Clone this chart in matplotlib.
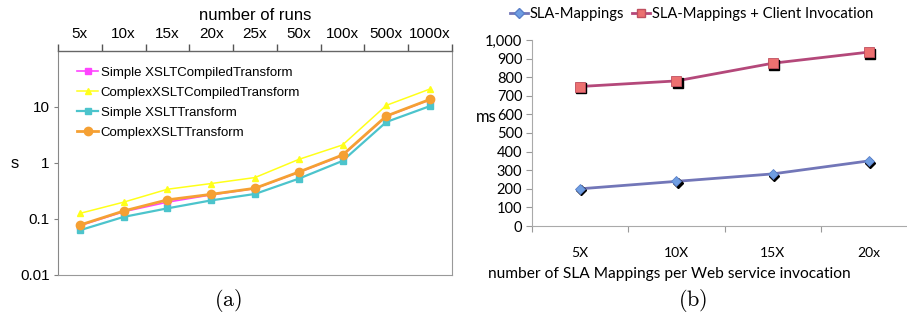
import matplotlib
matplotlib.use("Agg")
import matplotlib.pyplot as plt
import matplotlib.transforms as mtransforms
import numpy as np

# ---- data (a) ----
runs = ["5x", "10x", "15x", "20x", "25x", "50x", "100x", "500x", "1000x"]
simple_compiled = [0.076, 0.135, 0.20, 0.27, 0.35, 0.68, 1.36, 6.8, 13.5]
complex_compiled = [0.126, 0.20, 0.34, 0.43, 0.55, 1.16, 2.1, 10.7, 21.0]
simple_transform = [0.063, 0.109, 0.155, 0.215, 0.28, 0.525, 1.09, 5.4, 10.4]
complex_transform = [0.078, 0.139, 0.22, 0.276, 0.354, 0.69, 1.39, 6.9, 13.7]
yticks_a = [0.01, 0.1, 1, 10]
ytick_labels_a = ["0.01", "0.1", "1", "10"]

# ---- data (b) ----
mappings = ["5X", "10X", "15X", "20x"]
sla = [200, 240, 280, 350]
sla_client = [750, 780, 875, 935]
yticks_b = list(range(0, 1001, 100))

W, H = 907, 322
fig = plt.figure(figsize=(W / 100, H / 100), dpi=100)

def box(x0, x1, ytop, ybot):
    return [x0 / W, (H - ybot) / H, (x1 - x0) / W, (ybot - ytop) / H]

# ================= (a) =================
sans = "Liberation Sans"
ax = fig.add_axes(box(58, 452, 51, 275))
x = np.arange(len(runs))
ax.plot(x, simple_compiled, color="#FF44FF", lw=1.2, marker="s", ms=4, label="Simple XSLTCompiledTransform", zorder=3)
ax.plot(x, complex_compiled, color="#FFFF1A", lw=1.1, marker="^", ms=4.5, label="ComplexXSLTCompiledTransform", zorder=2)
ax.plot(x, simple_transform, color="#4CC4CC", lw=1.6, marker="s", ms=5, label="Simple XSLTTransform", zorder=3)
ax.plot(x, complex_transform, color="#F5A033", lw=2.0, marker="o", ms=6, label="ComplexXSLTTransform", zorder=4)
ax.set_yscale("log")
ax.set_ylim(0.01, 100)
ax.set_xlim(-0.5, len(runs) - 0.5)
ax.set_yticks(yticks_a)
ax.set_yticklabels(ytick_labels_a, fontfamily=sans, fontsize=11)
ax.yaxis.set_minor_locator(matplotlib.ticker.NullLocator())
ax.tick_params(axis="y", length=3, width=0.8, color="#808080", pad=3)
ax.xaxis.tick_top()
ax.set_xticks(x)
ax.set_xticklabels(runs, fontfamily=sans, fontsize=11)
ax.set_xticks(np.arange(-0.5, len(runs), 1.0), minor=True)
ax.tick_params(axis="x", which="major", length=0, pad=7)
ax.tick_params(axis="x", which="minor", length=5, width=1, color="#555555", direction="out")
ax.set_xlabel("number of runs", fontfamily=sans, fontsize=12)
ax.xaxis.set_label_position("top")
ax.xaxis.labelpad = 5
for s in ["left", "bottom", "right"]:
    ax.spines[s].set_color("#999999")
ax.spines["left"].set_color("#888888")
ax.spines["top"].set_color("#666666")
ax.spines["top"].set_linewidth(1.0)
leg = ax.legend(loc="upper left", bbox_to_anchor=(0.035, 0.955), frameon=False,
                prop={"family": sans, "size": 9.5}, handlelength=1.6, handletextpad=0.2,
                labelspacing=0.6, borderaxespad=0)
fig.text(15 / W, 1 - 163 / H, "s", fontfamily=sans, fontsize=12, ha="center", va="center")
fig.text(228 / W, 1 - 300 / H, r"$(\mathrm{a})$", ha="center", va="center", fontsize=16,
         math_fontfamily="cm")

# ================= (b) =================
cal = "Lato"
bx = fig.add_axes(box(532, 917, 40, 226))
xb = np.arange(len(mappings))
shadow = mtransforms.offset_copy(bx.transData, fig=fig, x=1.3, y=-1.6, units="dots")
bx.plot(xb, sla, color="#7276B8", lw=2.0, zorder=2)
bx.plot(xb, sla, ls="none", marker="D", ms=5, color="black", transform=shadow, zorder=3)
bx.plot(xb, sla, ls="none", marker="D", ms=5, mfc="#6F9EE2", mec="#5A7FC8", mew=0.6, zorder=4)
bx.plot(xb, sla_client, color="#B4487A", lw=2.0, zorder=2)
bx.plot(xb, sla_client, ls="none", marker="s", ms=6.5, color="black", transform=shadow, zorder=3)
bx.plot(xb, sla_client, ls="none", marker="s", ms=6.5, mfc="#EC7070", mec="#C05060", mew=0.6, zorder=4)
# legend proxies
h1, = bx.plot([], [], color="#7276B8", lw=2, marker="D", ms=5, mfc="#6F9EE2", mec="#5A7FC8")
h2, = bx.plot([], [], color="#B4487A", lw=2, marker="s", ms=6, mfc="#EC7070", mec="#C05060")
fig.legend([h1, h2], ["SLA-Mappings", "SLA-Mappings + Client Invocation"],
           loc="center left", bbox_to_anchor=(510 / W, 1 - 14 / H), ncol=2, frameon=False,
           prop={"family": cal, "size": 10.6}, handlelength=1.2, handletextpad=0.1,
           columnspacing=0.6, borderaxespad=0, borderpad=0)
bx.set_xlim(-0.5, len(mappings) - 0.5)
bx.set_ylim(0, 1000)
bx.set_yticks(yticks_b)
bx.set_yticklabels([f"{v:,}" for v in yticks_b], fontfamily=cal, fontsize=10.5)
bx.tick_params(axis="y", length=4, width=0.8, color="#999999", pad=3)
bx.set_xticks(xb)
bx.set_xticklabels(mappings, fontfamily=cal, fontsize=10)
bx.set_xticks(np.arange(-0.5, len(mappings), 1.0), minor=True)
bx.tick_params(axis="x", which="major", length=0, pad=15)
bx.tick_params(axis="x", which="minor", length=4, width=0.8, color="#999999")
bx.set_xlabel("number of SLA Mappings per Web service invocation", fontfamily=cal, fontsize=11.2)
bx.xaxis.set_label_coords((488 - 532) / 385, -(274 - 226) / 186)
bx.xaxis.label.set_ha("left")
bx.xaxis.label.set_va("center")
for s in ["top", "right"]:
    bx.spines[s].set_visible(False)
for s in ["left", "bottom"]:
    bx.spines[s].set_color("#AAAAAA")
fig.text(476 / W, 1 - 117 / H, "ms", fontfamily=cal, fontsize=12, ha="left", va="center")
fig.text(693 / W, 1 - 300 / H, r"$(\mathrm{b})$", ha="center", va="center", fontsize=16,
         math_fontfamily="cm")

fig.savefig("out.png", dpi=100)
